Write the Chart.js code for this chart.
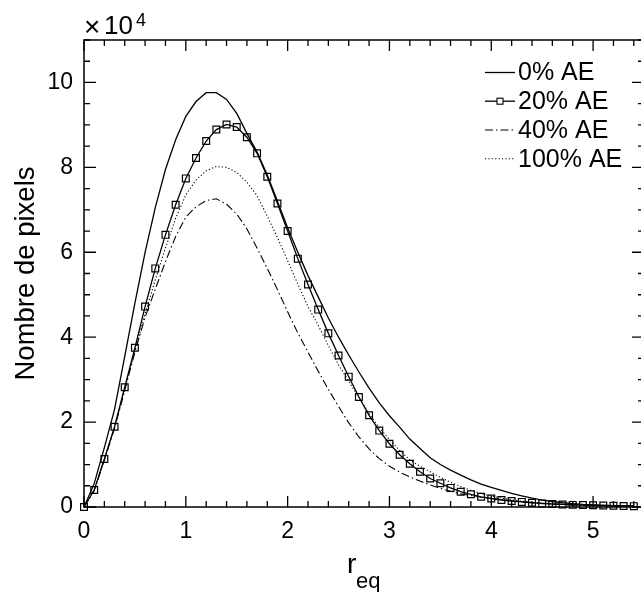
<!DOCTYPE html>
<html>
<head>
<meta charset="utf-8">
<script src="https://cdn.jsdelivr.net/npm/chart.js@4.4.1/dist/chart.umd.min.js"></script>
<style>
  html, body { margin: 0; padding: 0; background: #fff; overflow: hidden; }
  #wrap { width: 650px; height: 592px; }
</style>
</head>
<body>
<div id="wrap"><canvas id="c" width="650" height="592"></canvas></div>
<script>
// r_eq (abscisse), pas de 0.1
const rEq = [0, 0.1, 0.2, 0.3, 0.4, 0.5, 0.6, 0.7, 0.8, 0.9,
             1.0, 1.1, 1.2, 1.3, 1.4, 1.5, 1.6, 1.7, 1.8, 1.9,
             2.0, 2.1, 2.2, 2.3, 2.4, 2.5, 2.6, 2.7, 2.8, 2.9,
             3.0, 3.1, 3.2, 3.3, 3.4, 3.5, 3.6, 3.7, 3.8, 3.9,
             4.0, 4.1, 4.2, 4.3, 4.4, 4.5, 4.6, 4.7, 4.8, 4.9,
             5.0, 5.1, 5.2, 5.3, 5.4];

// nombre de pixels
const ae0 = [0, 5500, 14000, 23000, 35500, 48000, 60000, 70500, 79500, 86500,
             92000, 95500, 97600, 97600, 96000, 92700, 88000, 83600, 78200, 72000,
             65800, 60000, 54500, 49500, 44500, 40000, 35800, 31800, 28000, 24500,
             21500, 18800, 16000, 13800, 11600, 10000, 8700, 7500, 6400, 5400,
             4600, 3900, 3200, 2600, 2100, 1600, 1300, 1000, 800, 600,
             500, 400, 300, 300, 200];
const ae20 = [0, 4000, 11300, 18900, 28200, 37500, 47200, 56200, 64100, 71200,
              77400, 82200, 86200, 88900, 90100, 89500, 87100, 83300, 77800, 71500,
              65000, 58500, 52400, 46500, 40900, 35700, 30700, 25900, 21600, 18000,
              14900, 12300, 10200, 8300, 6700, 5600, 4500, 3600, 3000, 2400,
              2000, 1650, 1400, 1200, 1000, 850, 700, 600, 500, 450,
              400, 350, 300, 250, 200];
const ae40 = [0, 3800, 11000, 18500, 27500, 36500, 44700, 51300, 57800, 63700,
              68300, 70700, 72200, 72600, 71300, 69000, 65500, 61000, 56200, 51200,
              46000, 41000, 36500, 32000, 27700, 23700, 19800, 16500, 13700, 11400,
              9600, 8200, 7100, 6100, 5200, 4400, 3700, 3100, 2700, 2300,
              2000, 1800, 1500, 1200, 1000, 800, 700, 600, 500, 400,
              350, 300, 250, 200, 200];
const ae100 = [0, 4000, 11200, 18700, 27800, 36800, 45500, 53500, 61000, 68000,
               73500, 77000, 79200, 80200, 80000, 78800, 76500, 73300, 68500, 63500,
               58000, 52500, 47200, 42800, 38000, 33500, 29600, 25800, 22000, 18700,
               15900, 13300, 11100, 9600, 8300, 7000, 5800, 4800, 3900, 3200,
               2600, 2100, 1700, 1400, 1100, 900, 800, 600, 500, 450,
               400, 350, 300, 250, 200];

const seriesLabels = ['0% AE', '20% AE', '40% AE', '100% AE'];
const xTickValues = [0, 1, 2, 3, 4, 5];
const yTickValues = [0, 20000, 40000, 60000, 80000, 100000];
const yScaleFactor = 10000; // affiché comme ×10^4

const FONT = '"Liberation Sans", Arial, Helvetica, sans-serif';

function pts(ys) {
  return rEq.map((r, i) => ({ x: r, y: ys[i] }));
}

// cadre, graduations internes sur les 4 côtés, légende, titres
const framePlugin = {
  id: 'frame',
  afterDraw(chart) {
    const ctx = chart.ctx;
    const a = chart.chartArea;
    const xs = chart.scales.x, ys = chart.scales.y;
    ctx.save();
    ctx.strokeStyle = '#000';
    ctx.lineWidth = 1.5;
    ctx.strokeRect(a.left, a.top, a.right - a.left, a.bottom - a.top);

    ctx.lineWidth = 1.3;
    ctx.beginPath();
    for (let i = 0; i <= 27; i++) {
      const px = xs.getPixelForValue(i * 0.2);
      const len = (i % 5 === 0) ? 11 : 6;
      ctx.moveTo(px, a.bottom); ctx.lineTo(px, a.bottom - len);
      ctx.moveTo(px, a.top); ctx.lineTo(px, a.top + len);
    }
    for (let v = 0; v <= 110000; v += 5000) {
      const py = ys.getPixelForValue(v);
      const len = (v % 20000 === 0) ? 12 : 6;
      ctx.moveTo(a.left, py); ctx.lineTo(a.left + len, py);
      ctx.moveTo(a.right, py); ctx.lineTo(a.right - len, py);
    }
    ctx.stroke();

    // ×10^4
    ctx.fillStyle = '#000';
    ctx.textBaseline = 'alphabetic';
    ctx.textAlign = 'left';
    ctx.font = '28px ' + FONT;
    ctx.fillText('\u00d7', 84, 36);
    ctx.font = '26px ' + FONT;
    ctx.fillText('10', 104, 34);
    ctx.font = '18px ' + FONT;
    ctx.fillText('4', 136, 26);

    // r_eq
    ctx.font = '28px ' + FONT;
    ctx.fillText('r', 347, 573);
    ctx.font = '22px ' + FONT;
    ctx.fillText('eq', 356, 588);

    // légende
    const x0 = 485, x1 = 515, rowY = [72.5, 101.2, 130, 158.7];
    chart.data.datasets.forEach((ds, i) => {
      const y = rowY[i];
      ctx.save();
      ctx.strokeStyle = ds.borderColor;
      ctx.lineWidth = ds.borderWidth;
      ctx.setLineDash(ds.borderDash || []);
      ctx.beginPath();
      ctx.moveTo(x0, y); ctx.lineTo(x1, y);
      ctx.stroke();
      ctx.restore();
      if (ds.pointRadius > 0) {
        ctx.lineWidth = 1.1;
        ctx.strokeStyle = '#000';
        ctx.fillStyle = '#fff';
        ctx.fillRect(497, y - 3, 6, 6);
        ctx.strokeRect(497, y - 3, 6, 6);
      }
      ctx.fillStyle = '#000';
      ctx.font = '25px ' + FONT;
      ctx.textBaseline = 'middle';
      ctx.fillText(ds.label, 518, y + 1);
    });
    ctx.restore();
  }
};

const lineBase = { borderColor: '#000', backgroundColor: '#000', fill: false,
                   tension: 0, pointRadius: 0, clip: false };

new Chart(document.getElementById('c').getContext('2d'), {
  type: 'line',
  data: {
    datasets: [
      Object.assign({}, lineBase, { label: seriesLabels[0], data: pts(ae0), borderWidth: 1.3 }),
      Object.assign({}, lineBase, { label: seriesLabels[1], data: pts(ae20), borderWidth: 1.3,
        pointRadius: 4.8, pointStyle: 'rect', pointBorderWidth: 1.2,
        pointBorderColor: '#000', pointBackgroundColor: 'rgba(0,0,0,0)' }),
      Object.assign({}, lineBase, { label: seriesLabels[2], data: pts(ae40), borderWidth: 1.1,
        borderDash: [8, 3, 1.5, 3] }),
      Object.assign({}, lineBase, { label: seriesLabels[3], data: pts(ae100), borderWidth: 1.1,
        borderDash: [1.2, 2.2] })
    ]
  },
  options: {
    responsive: false,
    animation: false,
    devicePixelRatio: 1,
    layout: { padding: { top: 40, right: 6, left: 0, bottom: 0 } },
    plugins: { legend: { display: false }, tooltip: { enabled: false } },
    scales: {
      x: {
        type: 'linear', min: 0, max: 5.5,
        grid: { display: false, drawTicks: false },
        border: { display: false },
        ticks: { padding: 11, color: '#000', font: { family: FONT, size: 23 }, maxRotation: 0 },
        afterBuildTicks(s) { s.ticks = xTickValues.map(v => ({ value: v })); },
        afterFit(s) { s.height = 85; }
      },
      y: {
        min: 0, max: 110000,
        grid: { display: false, drawTicks: false },
        border: { display: false },
        ticks: { padding: 11, color: '#000', font: { family: FONT, size: 23 },
                 callback: v => String(v / yScaleFactor) },
        afterBuildTicks(s) { s.ticks = yTickValues.map(v => ({ value: v })); },
        title: { display: true, text: 'Nombre de pixels', color: '#000',
                 font: { family: FONT, size: 27.5 }, padding: { top: 10, bottom: 0 } },
        afterFit(s) { s.width = 84; }
      }
    }
  },
  plugins: [framePlugin]
});
</script>
</body>
</html>
